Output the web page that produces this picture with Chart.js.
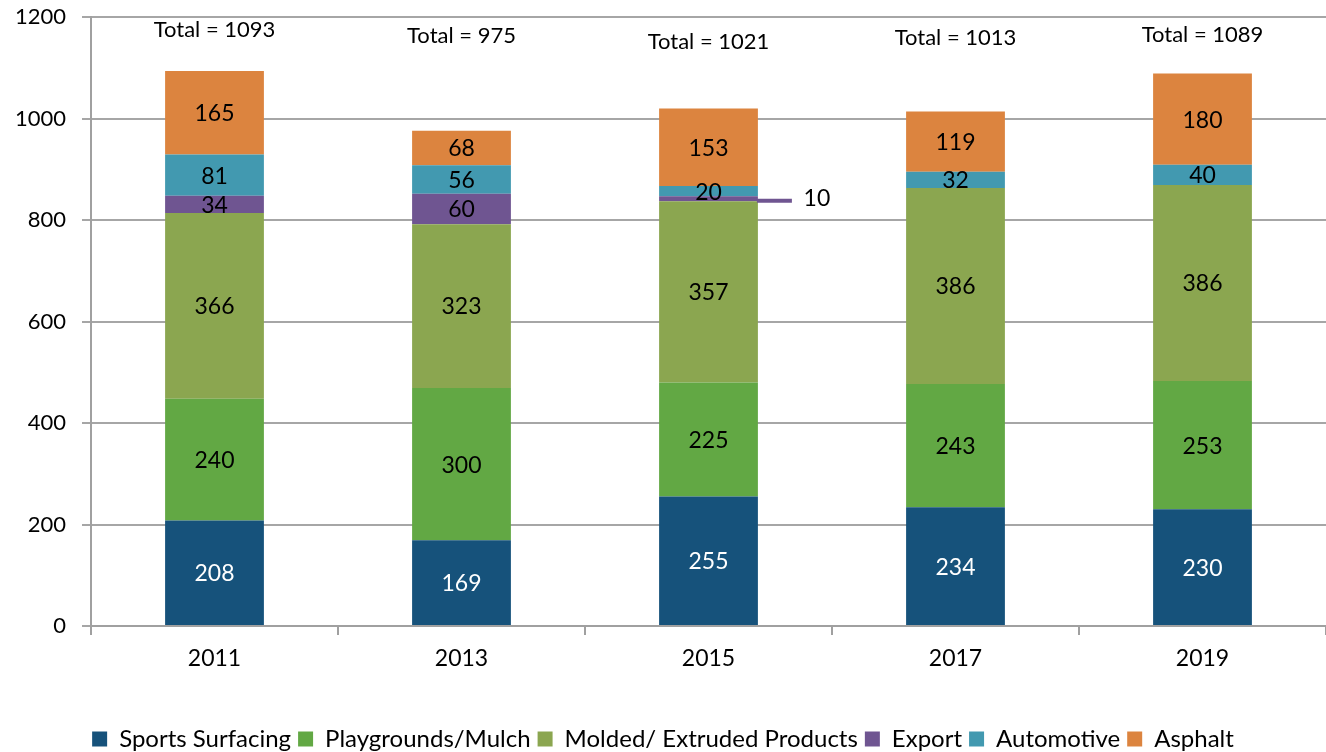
<!DOCTYPE html>
<html>
<head>
<meta charset="utf-8">
<script src="https://cdn.jsdelivr.net/npm/chart.js@4"></script>
<style>
  html, body { margin: 0; padding: 0; background: #fff; }
  #wrap { width: 1326px; height: 752px; }
</style>
</head>
<body>
<div id="wrap"><canvas id="tyreChart"></canvas></div>
<script>
const years = ["2011", "2013", "2015", "2017", "2019"];

const sportsSurfacing = [208, 169, 255, 234, 230];
const playgrounds = [240, 300, 225, 243, 253];
const molded = [366, 323, 357, 386, 386];
const exportVals = [34, 60, 10, 0, 0];
const automotive = [81, 56, 20, 32, 40];
const asphalt = [165, 68, 153, 119, 180];

const totals = [1093, 975, 1021, 1013, 1089];
// value (on y scale) where each "Total = ..." label sits
const totalLabelAt = [1174, 1163, 1151, 1159, 1165];

const yTicks = [0, 200, 400, 600, 800, 1000, 1200];

const FONT = "Lato, 'Open Sans', sans-serif";

function ds(label, data, color, textColor) {
    return {
        label: label,
        data: data,
        backgroundColor: color,
        borderWidth: 0,
        barPercentage: 0.4,
        categoryPercentage: 1.0,
        labelColor: textColor
    };
}

const labelPlugin = {
    id: "barLabels",
    afterLayout(chart) {
        // nudge the legend down a little, closer to the bottom edge
        chart.legend.top += 9;
        chart.legend.bottom += 9;
    },
    afterDatasetsDraw(chart) {
        const ctx = chart.ctx;
        ctx.save();
        ctx.textAlign = "center";
        ctx.textBaseline = "middle";
        ctx.font = "23px " + FONT;
        chart.data.datasets.forEach((d, di) => {
            const meta = chart.getDatasetMeta(di);
            meta.data.forEach((bar, i) => {
                const v = d.data[i];
                if (!v) return;
                const mid = (bar.y + bar.base) / 2;
                if (v < 15) {
                    // small segment: leader line out to the right
                    ctx.strokeStyle = d.backgroundColor;
                    ctx.lineWidth = 4;
                    ctx.beginPath();
                    ctx.moveTo(bar.x + bar.width / 2 - 1, mid + 2);
                    ctx.lineTo(bar.x + bar.width / 2 + 34, mid + 2);
                    ctx.stroke();
                    ctx.fillStyle = "#000";
                    ctx.fillText(String(v), bar.x + bar.width / 2 + 59, mid);
                    return;
                }
                ctx.fillStyle = d.labelColor;
                ctx.fillText(String(v), bar.x, mid + 1);
            });
        });
        const y = chart.scales.y;
        const x = chart.scales.x;
        ctx.font = "22px " + FONT;
        ctx.fillStyle = "#000";
        totals.forEach((t, i) => {
            ctx.fillText("Total = " + t, x.getPixelForValue(i), y.getPixelForValue(totalLabelAt[i]));
        });
        ctx.restore();
    }
};

new Chart(document.getElementById("tyreChart"), {
    type: "bar",
    data: {
        labels: years,
        datasets: [
            ds("Sports Surfacing", sportsSurfacing, "#16527B", "#fff"),
            ds("Playgrounds/Mulch", playgrounds, "#62A844", "#000"),
            ds("Molded/ Extruded Products", molded, "#8BA650", "#000"),
            ds("Export", exportVals, "#6F5591", "#000"),
            ds("Automotive", automotive, "#4299B0", "#000"),
            ds("Asphalt", asphalt, "#DC843F", "#000")
        ]
    },
    options: {
        responsive: true,
        maintainAspectRatio: false,
        animation: false,
        devicePixelRatio: 1,
        layout: { padding: { top: 17, right: 0, left: 0, bottom: 0 } },
        scales: {
            x: {
                stacked: true,
                afterFit(scale) { scale.height = 85; },
                grid: {
                    offset: true,
                    drawOnChartArea: false,
                    color: "#A0A0A0",
                    lineWidth: 2,
                    tickLength: 9
                },
                border: { color: "#A0A0A0", width: 2 },
                ticks: { color: "#000", font: { family: FONT, size: 23 }, padding: 10 }
            },
            y: {
                stacked: true,
                min: 0,
                max: 1200,
                afterFit(scale) { scale.width = 91; },
                afterBuildTicks(scale) { scale.ticks = yTicks.map(v => ({ value: v })); },
                grid: { color: "#A6A6A6", lineWidth: 2, tickLength: 9 },
                border: { color: "#A0A0A0", width: 2 },
                ticks: {
                    color: "#000",
                    font: { family: FONT, size: 22, lineHeight: 0.1 },
                    padding: 16,
                    callback: v => String(v)
                }
            }
        },
        plugins: {
            legend: {
                position: "bottom",
                labels: {
                    color: "#000",
                    font: { family: FONT, size: 24, lineHeight: 0.6 },
                    boxWidth: 15,
                    boxHeight: 15,
                    padding: 7
                }
            },
            tooltip: { enabled: false }
        }
    },
    plugins: [labelPlugin]
});
</script>
</body>
</html>
